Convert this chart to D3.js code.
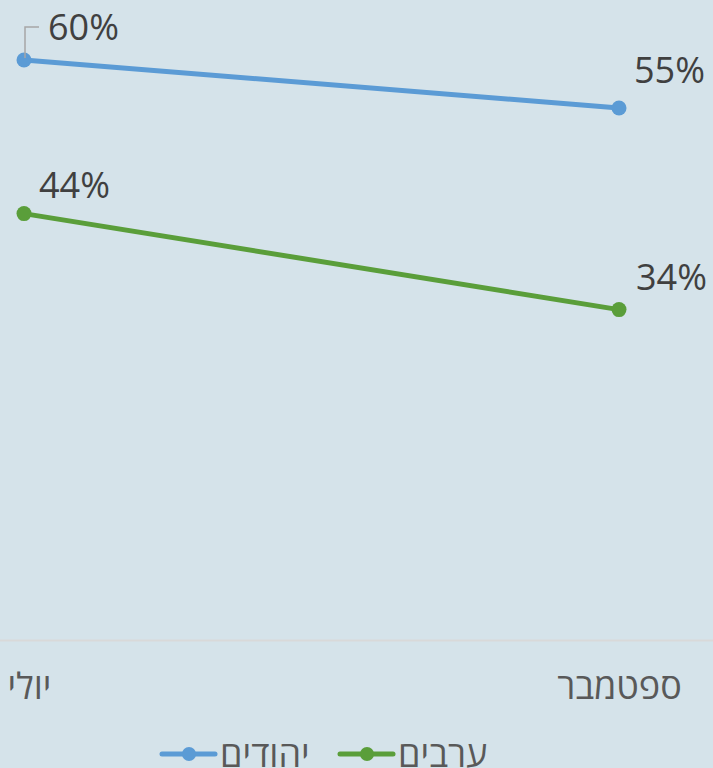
<!DOCTYPE html>
<html><head><meta charset="utf-8">
<script src="https://cdn.jsdelivr.net/npm/d3@7"></script>
<style>
html,body{margin:0;padding:0;background:#d5e3ea;}
svg{display:block;}
text{font-family:"Open Sans","Noto Sans",sans-serif;}
</style></head>
<body>
<svg id="c" width="713" height="768"></svg>
<script>
const categories = ["יולי", "ספטמבר"];
const seriesNames = ["יהודים", "ערבים"];
const jewsValues = [60, 55];
const arabsValues = [44, 34];
const colors = ["#5b9bd5", "#5a9e3a"];

const svg = d3.select("#c");
const W = 713, H = 768;
svg.append("rect").attr("width", W).attr("height", H).attr("fill", "#d5e3ea");

const x = d3.scalePoint().domain(categories).range([24, 619]);
const y = d3.scaleLinear().domain([0, 60]).range([636, 60]);

// baseline
svg.append("line").attr("x1", 0).attr("x2", W)
  .attr("y1", y(0) + 4.5).attr("y2", y(0) + 4.5)
  .attr("stroke", "#d9d9d9").attr("stroke-width", 2);

// x axis labels
const xAxis = d3.axisBottom(x).tickSize(0).tickPadding(0);
const gx = svg.append("g").attr("transform", `translate(0,${y(0)})`).call(xAxis);
gx.select(".domain").remove();
gx.selectAll("text").attr("font-size", 36).attr("fill", "#595959")
  .attr("font-family", "'Open Sans','Noto Sans',sans-serif")
  .attr("dy", null).attr("y", 63)
  .attr("dx", (d, i) => i === 0 ? 5 : 0);

const series = [
  {name: seriesNames[0], values: jewsValues, color: colors[0]},
  {name: seriesNames[1], values: arabsValues, color: colors[1]}
];
const line = d3.line().x((d, i) => x(categories[i])).y(d => y(d));

series.forEach(s => {
  svg.append("path").datum(s.values).attr("d", line)
    .attr("fill", "none").attr("stroke", s.color).attr("stroke-width", 5);
  svg.selectAll(null).data(s.values).enter().append("circle")
    .attr("cx", (d, i) => x(categories[i])).attr("cy", d => y(d))
    .attr("r", 7.5).attr("fill", s.color);
});

// leader line for 60%
svg.append("path")
  .attr("d", `M${x(categories[0])+1},${y(jewsValues[0])-2}V${y(jewsValues[0])-33}H${x(categories[0])+15}`)
  .attr("fill", "none").attr("stroke", "#a6a6a6").attr("stroke-width", 1.5);

// data labels (offsets from the point)
const labelOffsets = [
  [{dx: 24, dy: -20}, {dx: 15, dy: -25}],
  [{dx: 15, dy: -16}, {dx: 17, dy: -20}]
];
series.forEach((s, si) => {
  s.values.forEach((v, i) => {
    svg.append("text")
      .attr("x", x(categories[i]) + labelOffsets[si][i].dx)
      .attr("y", y(v) + labelOffsets[si][i].dy)
      .attr("font-size", 36).attr("fill", "#404040")
      .text(v + "%");
  });
});

// legend
const legendItems = [
  {name: seriesNames[0], color: colors[0], x: 160},
  {name: seriesNames[1], color: colors[1], x: 338}
];
legendItems.forEach(it => {
  const g = svg.append("g").attr("transform", `translate(${it.x},754)`);
  g.append("line").attr("x1", 2).attr("x2", 55).attr("y1", 0).attr("y2", 0)
    .attr("stroke", it.color).attr("stroke-width", 5).attr("stroke-linecap", "round");
  g.append("circle").attr("cx", 29).attr("cy", 0).attr("r", 7).attr("fill", it.color);
  g.append("text").attr("x", 60).attr("y", 13).attr("font-size", 36)
    .attr("fill", "#595959").text(it.name);
});
</script>
</body></html>
